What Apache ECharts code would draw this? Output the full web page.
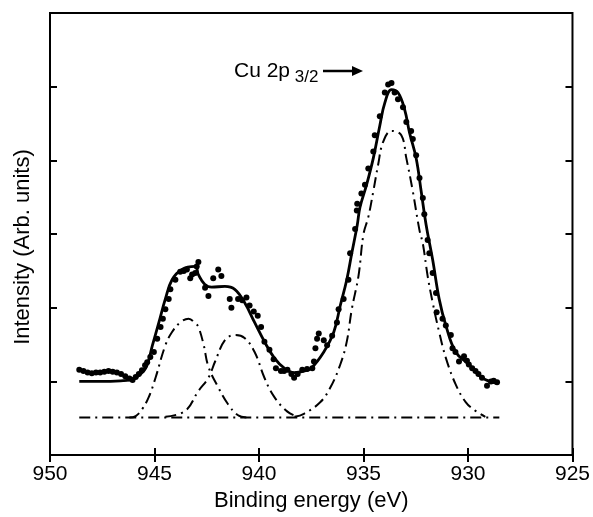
<!DOCTYPE html>
<html>
<head>
<meta charset="utf-8">
<script src="https://cdn.jsdelivr.net/npm/echarts@6/dist/echarts.min.js"></script>
<style>
    html, body { margin: 0; padding: 0; background: #fff; }
    #chart { width: 593px; height: 517px; }
</style>
</head>
<body>
<div id="chart"></div>
<script>
// 测量数据点 (binding energy, intensity)
var dotE = [948.6, 948.4, 948.2, 948.0, 947.8, 947.6, 947.4, 947.2, 947.0, 946.8, 946.6, 946.4, 946.2, 946.05, 945.9, 945.75, 945.6, 945.45,
    945.35, 945.2, 945.03, 944.87, 944.71, 944.6, 944.48, 944.32, 944.24, 944.0, 943.77, 943.6, 943.45, 943.29, 943.2, 943.05, 942.98, 942.9,
    942.58, 942.42, 942.19, 941.95, 941.8, 941.4, 941.32, 941.0, 940.8, 940.6, 940.45, 940.25, 940.06, 939.9, 939.74, 939.5, 939.3, 939.19,
    938.95, 938.8, 938.64, 938.45, 938.32, 938.15, 937.93, 937.7, 937.45, 937.37, 937.3, 937.22, 937.14, 936.9, 936.74, 936.5, 936.27, 936.19,
    935.95, 935.72, 935.64, 935.4, 935.32, 935.3, 935.1, 934.93, 934.77, 934.53, 934.46, 934.22, 933.98, 933.82, 933.66, 933.51, 933.35, 933.11,
    932.95, 932.72, 932.64, 932.48, 932.32, 932.16, 932.09, 931.93, 931.85, 931.69, 931.53, 931.5, 931.22, 931.06, 930.82, 930.74, 930.6, 930.43,
    930.19, 930.05, 929.96, 929.8, 929.64, 929.5, 929.33, 929.09, 928.9, 928.77, 928.61];
var dotI = [1.16, 1.14, 1.12, 1.11, 1.12, 1.12, 1.13, 1.14, 1.13, 1.12, 1.10, 1.07, 1.04, 1.02, 1.06, 1.10, 1.15, 1.22,
    1.26, 1.33, 1.40, 1.58, 1.74, 1.85, 1.98, 2.12, 2.25, 2.38, 2.49, 2.50, 2.52, 2.40, 2.45, 2.47, 2.56, 2.62,
    2.27, 2.16, 2.40, 2.52, 2.43, 2.12, 2.00, 2.12, 2.10, 2.14, 2.03, 1.95, 1.89, 1.74, 1.54, 1.43, 1.30, 1.18,
    1.14, 1.14, 1.16, 1.10, 1.05, 1.10, 1.16, 1.17, 1.18, 1.27, 1.45, 1.58, 1.65, 1.56, 1.49, 1.62, 1.80, 1.98,
    2.12, 2.38, 2.74, 3.07, 3.32, 3.41, 3.55, 3.67, 3.89, 4.12, 4.34, 4.60, 4.92, 5.03, 5.05, 4.92, 4.83, 4.72,
    4.52, 4.40, 4.29, 4.07, 3.76, 3.49, 3.27, 2.92, 2.74, 2.47, 2.20, 1.94, 1.85, 1.76, 1.63, 1.45, 1.40, 1.27,
    1.34, 1.28, 1.23, 1.18, 1.14, 1.10, 1.05, 0.94, 1.00, 1.01, 0.99];

// 拟合曲线 (实线)
var fitE = [948.6, 947.5, 946.5, 946.2, 945.9, 945.42, 945.1, 944.79, 944.48, 944.16, 943.69, 943.05, 942.9, 942.6, 942.27, 941.63, 941.16,
    940.69, 940.21, 939.74, 939.27, 938.79, 938.32, 937.85, 937.5, 936.9, 936.42, 936.11, 935.8, 935.56, 935.3, 935.17, 934.85, 934.53, 934.22,
    933.98, 933.66, 933.35, 933.03, 932.8, 932.48, 932.24, 932.0, 931.69, 931.38, 931.06, 930.59, 929.96, 929.33, 928.55];
var fitI = [1.00, 1.00, 1.01, 1.02, 1.05, 1.18, 1.49, 1.80, 2.12, 2.38, 2.52, 2.56, 2.45, 2.32, 2.28, 2.29, 2.25,
    2.07, 1.80, 1.54, 1.32, 1.18, 1.12, 1.14, 1.18, 1.40, 1.67, 2.03, 2.38, 2.74, 3.12, 3.36, 3.67, 4.03, 4.47,
    4.78, 4.96, 4.92, 4.69, 4.38, 4.03, 3.58, 3.12, 2.65, 2.12, 1.76, 1.40, 1.23, 1.05, 0.97];

// 卫星峰1 (点划线)
var sat1E = [946.2, 945.9, 945.6, 945.27, 944.95, 944.48, 944.16, 943.77, 943.37, 943.05, 942.9, 942.65, 942.42, 941.95, 941.48, 941.0, 940.6];
var sat1I = [0.51, 0.53, 0.62, 0.79, 1.05, 1.49, 1.67, 1.80, 1.85, 1.79, 1.74, 1.50, 1.20, 0.92, 0.69, 0.54, 0.51];

// 卫星峰2
var sat2E = [944.48, 943.53, 942.9, 942.42, 942.1, 941.63, 941.16, 940.69, 940.21, 939.74, 939.27, 938.64, 938.16];
var sat2I = [0.52, 0.60, 0.87, 1.05, 1.27, 1.56, 1.63, 1.59, 1.40, 1.05, 0.79, 0.59, 0.52];

// 主峰 Cu 2p3/2
var mainE = [938.3, 937.85, 937.06, 936.58, 936.11, 935.8, 935.56, 935.24, 935.0, 934.77, 934.53, 934.3, 934.06, 933.66, 933.19, 932.95,
    932.64, 932.32, 932.16, 931.93, 931.69, 931.38, 931.06, 930.59, 930.11, 929.64, 929.17];
var mainI = [0.52, 0.56, 0.72, 0.92, 1.23, 1.54, 1.98, 2.43, 3.00, 3.23, 3.58, 3.94, 4.25, 4.40, 4.34, 4.03,
    3.58, 3.05, 2.87, 2.43, 2.07, 1.67, 1.32, 0.96, 0.72, 0.60, 0.52];

// 背景基线
var baseE = [948.6, 928.5];
var baseI = [0.51, 0.51];

function pairs(xs, ys) {
    return xs.map(function (x, i) { return [x, ys[i]]; });
}

var chart = echarts.init(document.getElementById('chart'));

var dashDot = [11, 5, 2, 5];
var font = "Liberation Sans, Arial, sans-serif";
var ink = "#000";

// 刻度线 (朝内)
var tick = { show: true, inside: true, length: 7, lineStyle: { color: ink, width: 2 } };

var option = {
    animation: false,
    backgroundColor: "#fff",
    grid: {
        left: 50, right: 15, top: 13, bottom: 55,
        show: true,
        borderColor: ink,
        borderWidth: 2
    },
    xAxis: [{
        type: "value",
        min: 925, max: 950, interval: 5,
        inverse: true,
        name: "Binding energy (eV)",
        nameLocation: "middle",
        nameGap: 34,
        nameTextStyle: { color: ink, fontSize: 22, fontFamily: font },
        axisLine: { show: false },
        axisTick: tick,
        axisLabel: { color: ink, fontSize: 21, fontFamily: font, margin: 9 },
        splitLine: { show: false }
    }, {
        type: "value",
        position: "top",
        min: 925, max: 950, interval: 5,
        inverse: true,
        axisLine: { show: false },
        axisTick: tick,
        axisLabel: { show: false },
        splitLine: { show: false }
    }],
    yAxis: [{
        type: "value",
        min: 0, max: 6, interval: 1,
        name: "Intensity (Arb. units)",
        nameLocation: "middle",
        nameGap: 16,
        nameTextStyle: { color: ink, fontSize: 22, fontFamily: font, padding: [0, 26, 0, 0] },
        axisLine: { show: false },
        axisTick: tick,
        axisLabel: { show: false },
        splitLine: { show: false }
    }, {
        type: "value",
        position: "right",
        min: 0, max: 6, interval: 1,
        axisLine: { show: false },
        axisTick: tick,
        axisLabel: { show: false },
        splitLine: { show: false }
    }],
    graphic: [{
        type: "text",
        left: 234, top: 61,
        style: {
            text: "{a|Cu 2p}{b| 3/2}",
            rich: {
                a: { fontSize: 21, fontFamily: font, fill: ink },
                b: { fontSize: 17, fontFamily: font, fill: ink, padding: [12, 0, 0, 0] }
            }
        }
    }, {
        type: "line",
        shape: { x1: 323, y1: 71, x2: 354, y2: 71 },
        style: { stroke: ink, lineWidth: 2.5 }
    }, {
        type: "polygon",
        shape: { points: [[352, 66], [363, 71], [352, 76]] },
        style: { fill: ink }
    }],
    series: [{
        type: "line",
        data: pairs(baseE, baseI),
        symbol: "none",
        lineStyle: { color: ink, width: 2, type: dashDot }
    }, {
        type: "line",
        data: pairs(sat1E, sat1I),
        symbol: "none",
        smooth: 0.4,
        lineStyle: { color: ink, width: 2, type: dashDot }
    }, {
        type: "line",
        data: pairs(sat2E, sat2I),
        symbol: "none",
        smooth: 0.4,
        lineStyle: { color: ink, width: 2, type: dashDot }
    }, {
        type: "line",
        data: pairs(mainE, mainI),
        symbol: "none",
        smooth: 0.4,
        lineStyle: { color: ink, width: 2, type: dashDot }
    }, {
        type: "line",
        data: pairs(fitE, fitI),
        symbol: "none",
        smooth: 0.4,
        lineStyle: { color: ink, width: 2.8 }
    }, {
        type: "scatter",
        data: pairs(dotE, dotI),
        symbol: "circle",
        symbolSize: 6,
        itemStyle: { color: ink, opacity: 1 }
    }]
};

chart.setOption(option);
</script>
</body>
</html>
